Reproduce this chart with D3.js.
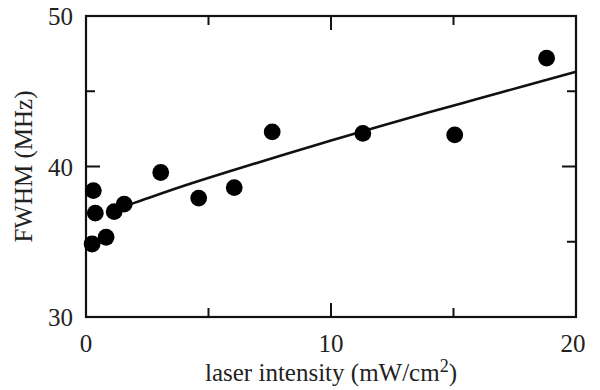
<!DOCTYPE html>
<html>
<head>
<meta charset="utf-8">
<script src="https://cdn.jsdelivr.net/npm/d3@7"></script>
<style>
  body { margin: 0; background: #fff; }
  text { font-family: "Liberation Serif", "Times New Roman", serif; fill: #222; }
</style>
</head>
<body>
<div id="chart"></div>
<script>
// measured points
var intensity = [0.25, 0.38, 0.30, 0.82, 1.15, 1.56, 3.05, 4.6, 6.05, 7.6, 11.3, 15.05, 18.8];
var fwhm      = [34.85, 36.9, 38.4, 35.3, 37.0, 37.5, 39.6, 37.9, 38.6, 42.3, 42.2, 42.1, 47.2];

// fit curve
var fitX = [1.2, 2, 4, 6, 8, 10, 12, 14, 16, 18, 20];
var fitY = [37.15, 37.6, 38.72, 39.75, 40.75, 41.72, 42.68, 43.6, 44.5, 45.4, 46.3];

var xMajor = [0, 10, 20];
var xMinor = [5, 15];
var yMajor = [30, 40, 50];
var yMinor = [35, 45];

var width = 600, height = 390;
// plot box edges (note: "top" is reserved on window, so use other names)
var pL = 86, pR = 576, pT = 16, pB = 317;

var svg = d3.select('#chart').append('svg')
	.attr('width', width)
	.attr('height', height);

var x = d3.scaleLinear().domain([0, 20]).range([pL, pR]);
var y = d3.scaleLinear().domain([30, 50]).range([pB, pT]);

var ink = '#111';

// ticks on all four sides, pointing inward
function xticks(vals, len) {
	svg.selectAll(null).data(vals).enter().append('line')
		.attr('x1', d => x(d)).attr('x2', d => x(d))
		.attr('y1', pB).attr('y2', pB - len)
		.attr('stroke', ink).attr('stroke-width', 2);
	svg.selectAll(null).data(vals).enter().append('line')
		.attr('x1', d => x(d)).attr('x2', d => x(d))
		.attr('y1', pT).attr('y2', pT + len)
		.attr('stroke', ink).attr('stroke-width', 2);
}
function yticks(vals, len) {
	svg.selectAll(null).data(vals).enter().append('line')
		.attr('y1', d => y(d)).attr('y2', d => y(d))
		.attr('x1', pL).attr('x2', pL + len)
		.attr('stroke', ink).attr('stroke-width', 2);
	svg.selectAll(null).data(vals).enter().append('line')
		.attr('y1', d => y(d)).attr('y2', d => y(d))
		.attr('x1', pR).attr('x2', pR - len)
		.attr('stroke', ink).attr('stroke-width', 2);
}
xticks(xMajor.slice(1, -1), 14);
xticks(xMinor, 9);
yticks(yMajor.slice(1, -1), 14);
yticks(yMinor, 9);

// frame
svg.append('rect')
	.attr('x', pL).attr('y', pT)
	.attr('width', pR - pL).attr('height', pB - pT)
	.attr('fill', 'none').attr('stroke', ink).attr('stroke-width', 2.2);

// tick labels (last one nudged in, like the original)
svg.selectAll(null).data(xMajor).enter().append('text')
	.attr('x', (d, i) => x(d) - (i == xMajor.length - 1 ? 3 : 0)).attr('y', pB + 35)
	.attr('text-anchor', 'middle')
	.style('font-size', '25px')
	.text(d => d);

svg.selectAll(null).data(yMajor).enter().append('text')
	.attr('x', pL - 13).attr('y', d => y(d) + 9)
	.attr('text-anchor', 'end')
	.style('font-size', '25px')
	.text(d => d);

// axis titles
var xl = svg.append('text')
	.attr('x', x(10)).attr('y', 381)
	.attr('text-anchor', 'middle')
	.style('font-size', '25px');
xl.append('tspan').text('laser intensity (mW/cm');
xl.append('tspan').attr('dy', -9).style('font-size', '18px').text('2');
xl.append('tspan').attr('dy', 9).text(')');

svg.append('text')
	.attr('transform', 'translate(32,' + ((pT + pB) / 2) + ') rotate(-90)')
	.attr('text-anchor', 'middle')
	.style('font-size', '25px')
	.text('FWHM (MHz)');

// fit curve
var line = d3.line()
	.x(d => x(d[0]))
	.y(d => y(d[1]))
	.curve(d3.curveMonotoneX);

svg.append('path')
	.datum(d3.zip(fitX, fitY))
	.attr('d', line)
	.attr('fill', 'none')
	.attr('stroke', ink)
	.attr('stroke-width', 2.6);

// data points
svg.selectAll('.pt').data(d3.zip(intensity, fwhm)).enter().append('circle')
	.attr('class', 'pt')
	.attr('cx', d => x(d[0]))
	.attr('cy', d => y(d[1]))
	.attr('r', 8.4)
	.attr('fill', '#000');
</script>
</body>
</html>
